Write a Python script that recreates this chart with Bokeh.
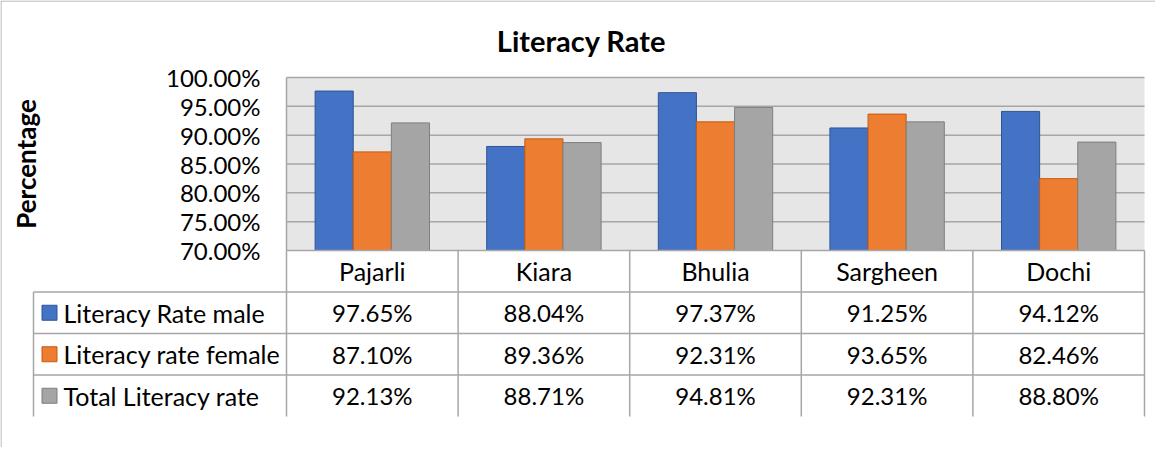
import math
from bokeh.plotting import figure
from bokeh.models import Range1d, ColumnDataSource
from bokeh.transform import dodge
from bokeh.core.properties import value
from bokeh.embed import file_html
from bokeh.resources import INLINE

# ---------------- data ----------------
chart_title = "Literacy Rate"
y_axis_title = "Percentage"
villages = ["Pajarli", "Kiara", "Bhulia", "Sargheen", "Dochi"]
series_names = ["Literacy Rate male", "Literacy rate female", "Total Literacy rate"]
male = [97.65, 88.04, 97.37, 91.25, 94.12]
female = [87.10, 89.36, 92.31, 93.65, 82.46]
total = [92.13, 88.71, 94.81, 92.31, 88.80]
y_ticks = [70, 75, 80, 85, 90, 95, 100]

# ---------------- style ----------------
series_colors = ["#4472C4", "#ED7D31", "#A5A5A5"]
series_edges = ["#2F5597", "#C55A11", "#7F7F7F"]
FONT = "Lato"
TXT = "#000000"
GRID = "#A6A6A6"
FS_NUM = "24px"
FS_WORD = "25px"

# ---------------- layout (page pixels) ----------------
W, H = 1155, 447
MARGIN = 8
plot_l, plot_r, plot_t, plot_b = 294, 1152, 85, 258
table_l = 41
row_h = 41.5
ymin, ymax = y_ticks[0], y_ticks[-1]
n = len(villages)
cw = (plot_r - plot_l) / n
ppu = (plot_b - plot_t) / (ymax - ymin)


def px2x(px):
    return (px - plot_l) / cw


def py2pct(py):
    return ymin + (plot_b - py) / ppu


def py2row(py):
    return (py - plot_b) / row_h


p = figure(
    width=W, height=H,
    x_range=Range1d(px2x(MARGIN), px2x(MARGIN + W)),
    y_range=Range1d(py2pct(MARGIN + H), py2pct(MARGIN)),
    x_axis_type=None, y_axis_type=None,
    output_backend="svg", toolbar_location=None, title=None,
    min_border=0,
)
p.extra_y_ranges = {"row": Range1d(start=py2row(MARGIN + H), end=py2row(MARGIN))}
p.outline_line_color = None
p.background_fill_color = "white"
p.border_fill_color = "white"

# outer chart border (top, left)
xl = px2x(MARGIN + 0.5)
p.segment(x0=[xl, xl], x1=[xl, px2x(MARGIN + W)],
          y0=[py2pct(MARGIN + H), py2pct(MARGIN + 0.5)],
          y1=[py2pct(MARGIN + 0.5), py2pct(MARGIN + 0.5)],
          line_color="#A6A6A6", line_width=1)

# plot area background
p.quad(left=0, right=n, bottom=ymin, top=ymax, fill_color="#E7E6E6", line_color=None)

# gridlines
grid_vals = y_ticks[1:]
p.segment(x0=[0] * len(grid_vals), x1=[n] * len(grid_vals), y0=grid_vals, y1=grid_vals,
          line_color=GRID, line_width=1.5)
# plot area left edge
p.segment(x0=[0], x1=[0], y0=[ymin], y1=[ymax], line_color=GRID, line_width=1.5)

# bars
src = ColumnDataSource(dict(x=[i + 0.5 for i in range(n)], male=male, female=female, total=total))
bw = 1 / 4.5
for k, col in enumerate(["male", "female", "total"]):
    p.vbar(x=dodge("x", (k - 1) * bw), top=col, bottom=ymin, width=bw, source=src,
           fill_color=series_colors[k], line_color=series_edges[k], line_width=1)

# y tick labels
p.text(x=[px2x(268)] * len(y_ticks), y=y_ticks, text=[f"{t:.2f}%" for t in y_ticks],
       text_align="right", text_baseline="middle", text_font=value(FONT),
       text_font_size=FS_NUM, text_color=TXT)

# axis title
p.text(x=[px2x(33)], y=[(ymin + ymax) / 2], text=[y_axis_title], angle=math.pi / 2,
       text_align="center", text_baseline="middle", text_font=value(FONT),
       text_font_style="bold", text_font_size="26px", text_color=TXT)

# chart title
p.text(x=[px2x(589)], y=[py2pct(48)], text=[chart_title],
       text_align="center", text_baseline="middle", text_font=value(FONT),
       text_font_style="bold", text_font_size="29px", text_color=TXT)

# ---------------- data table ----------------
tl = px2x(table_l)
nrows = len(series_names) + 1
# horizontal lines
hx0 = [0] + [tl] * len(series_names)
hx1 = [n] * nrows
hy = list(range(nrows))
p.segment(x0=hx0, x1=hx1, y0=hy, y1=hy, y_range_name="row", line_color=GRID, line_width=1.5)
# vertical lines
vx = [tl] + list(range(n + 1))
vy0 = [1] + [0] * (n + 1)
vy1 = [nrows] * (n + 2)
p.segment(x0=vx, x1=vx, y0=vy0, y1=vy1, y_range_name="row", line_color=GRID, line_width=1.5)

# category header
p.text(x=[i + 0.5 for i in range(n)], y=[0.5] * n, text=villages, y_range_name="row",
       text_align="center", text_baseline="middle", text_font=value(FONT),
       text_font_size=FS_WORD, text_color=TXT)

# legend keys + names
rows_y = [s + 1.5 for s in range(len(series_names))]
p.rect(x=[px2x(57)] * len(series_names), y=rows_y, width=15, height=15,
       width_units="screen", height_units="screen", y_range_name="row",
       fill_color=series_colors, line_color=series_edges, line_width=1)
p.text(x=[px2x(71)] * len(series_names), y=rows_y, text=series_names, y_range_name="row",
       text_align="left", text_baseline="middle", text_font=value(FONT),
       text_font_size=FS_WORD, text_color=TXT)

# values
cx, cy, ct = [], [], []
for s, vals in enumerate([male, female, total]):
    for i, v in enumerate(vals):
        cx.append(i + 0.5)
        cy.append(s + 1.5)
        ct.append(f"{v:.2f}%")
p.text(x=cx, y=cy, text=ct, y_range_name="row",
       text_align="center", text_baseline="middle", text_font=value(FONT),
       text_font_size=FS_NUM, text_color=TXT)

open("out.html", "w").write(file_html(p, INLINE))
